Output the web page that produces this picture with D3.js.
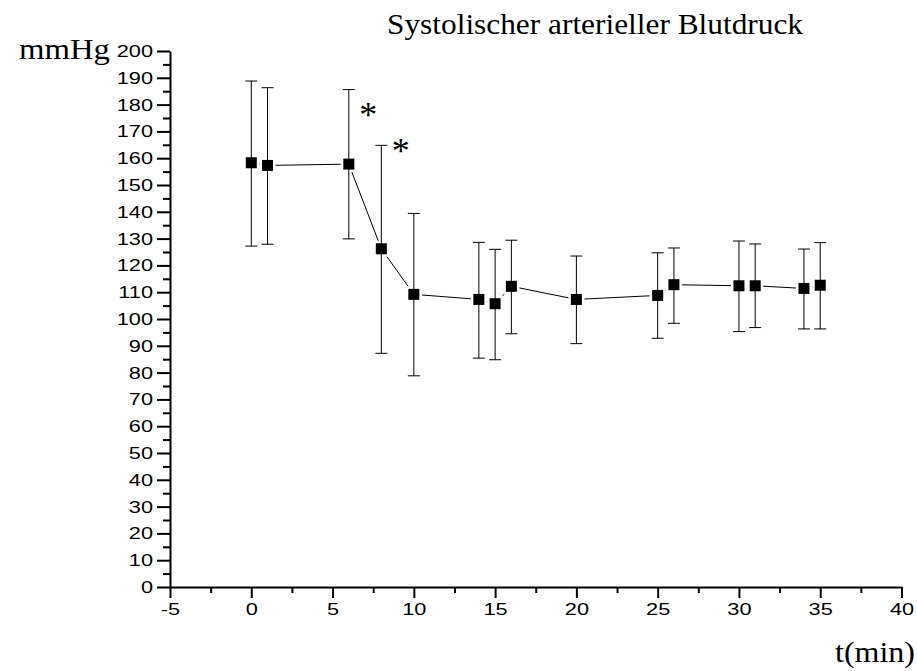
<!DOCTYPE html>
<html>
<head>
<meta charset="utf-8">
<script src="https://cdn.jsdelivr.net/npm/d3@7/dist/d3.min.js"></script>
<style>
  html, body { margin: 0; padding: 0; background: #fff; }
  svg { display: block; }
</style>
</head>
<body>
<svg id="chart" width="917" height="671"></svg>
<script>
// Systolic arterial blood pressure over time (mean ± SD)
const times  = [0, 1, 6, 8, 10, 14, 15, 16, 20, 25, 26, 30, 31, 34, 35];
const means  = [158.3, 157.3, 157.8, 126.2, 109.2, 107.3, 105.7, 112.2, 107.3, 108.8, 112.8, 112.4, 112.4, 111.4, 112.6];
const upper  = [188.8, 186.3, 185.6, 164.8, 139.4, 128.6, 126.0, 129.4, 123.5, 124.7, 126.5, 129.1, 128.0, 126.1, 128.5];
const lower  = [127.2, 127.9, 129.9, 87.2, 78.8, 85.4, 84.8, 94.5, 90.8, 92.8, 98.4, 95.3, 96.8, 96.3, 96.3];

// significance markers
const starTimes  = [7.2, 9.2];
const starValues = [178, 164.4];

const xTicks = [-5, 0, 5, 10, 15, 20, 25, 30, 35, 40];
const yTicks = d3.range(0, 201, 10);

const titleText = "Systolischer arterieller Blutdruck";
const yLabelText = "mmHg";
const xLabelText = "t(min)";

const svg = d3.select("#chart");
const sans = "'Liberation Sans', Arial, sans-serif";
const serif = "'Liberation Serif', 'Times New Roman', serif";
const stretch = 1.28;
const plain = d => String(d);

const x = d3.scaleLinear().domain([-5, 40]).range([170, 901.5]);
const y = d3.scaleLinear().domain([0, 200]).range([587, 51]);

// ---- axes ----
function styleAxis(g) {
  g.selectAll("path.domain").attr("stroke", "#000").attr("stroke-width", 2);
  g.selectAll(".tick line").attr("stroke", "#000").attr("stroke-width", 2);
}

const xMinor = svg.append("g").attr("transform", `translate(0,${y(0)})`)
  .call(d3.axisBottom(x).tickValues(d3.range(-2.5, 40, 5)).tickSize(6).tickSizeOuter(0).tickFormat(""));
styleAxis(xMinor);
xMinor.select("path.domain").remove();

const xAxis = svg.append("g").attr("transform", `translate(0,${y(0)})`)
  .call(d3.axisBottom(x).tickValues(xTicks).tickSize(11).tickSizeOuter(0).tickPadding(5).tickFormat(plain));
styleAxis(xAxis);
xAxis.selectAll("text")
  .attr("fill", "#000")
  .style("font-family", sans).style("font-size", "17px")
  .attr("transform", `scale(${stretch},1)`);

const yMinor = svg.append("g").attr("transform", `translate(${x(-5)},0)`)
  .call(d3.axisLeft(y).tickValues(d3.range(5, 200, 10)).tickSize(7).tickSizeOuter(0).tickFormat(""));
styleAxis(yMinor);
yMinor.select("path.domain").remove();

const yAxis = svg.append("g").attr("transform", `translate(${x(-5)},0)`)
  .call(d3.axisLeft(y).tickValues(yTicks).tickSize(13).tickSizeOuter(0).tickFormat(plain));
styleAxis(yAxis);
yAxis.selectAll("text")
  .attr("x", 0)
  .attr("fill", "#000")
  .style("font-family", sans).style("font-size", "17px")
  .attr("transform", `translate(-17,0) scale(${stretch},1)`);

// ---- data ----
const pts = times.map((t, i) => ({ t, m: means[i], hi: upper[i], lo: lower[i] }));

svg.append("path")
  .datum(pts)
  .attr("fill", "none")
  .attr("stroke", "#000")
  .attr("stroke-width", 1)
  .attr("d", d3.line().x(d => x(d.t)).y(d => y(d.m)));

// white halo so the connecting line stops short of each symbol
svg.append("g").selectAll("rect").data(pts).join("rect")
  .attr("x", d => x(d.t) - 8).attr("y", d => y(d.m) - 8)
  .attr("width", 16).attr("height", 16)
  .attr("fill", "#fff");

const bars = svg.append("g").attr("stroke", "#000").attr("stroke-width", 1);
bars.selectAll("line.v").data(pts).join("line").attr("class", "v")
  .attr("x1", d => x(d.t)).attr("x2", d => x(d.t))
  .attr("y1", d => y(d.hi)).attr("y2", d => y(d.lo));
bars.selectAll("line.hi").data(pts).join("line").attr("class", "hi")
  .attr("x1", d => x(d.t) - 6).attr("x2", d => x(d.t) + 6)
  .attr("y1", d => y(d.hi)).attr("y2", d => y(d.hi));
bars.selectAll("line.lo").data(pts).join("line").attr("class", "lo")
  .attr("x1", d => x(d.t) - 6).attr("x2", d => x(d.t) + 6)
  .attr("y1", d => y(d.lo)).attr("y2", d => y(d.lo));

svg.append("g").selectAll("rect").data(pts).join("rect")
  .attr("x", d => x(d.t) - 5.5).attr("y", d => y(d.m) - 5.5)
  .attr("width", 11).attr("height", 11)
  .attr("fill", "#000");

// significance asterisks
svg.append("g").selectAll("text").data(starTimes.map((t, i) => ({ t, v: starValues[i] }))).join("text")
  .attr("x", d => x(d.t)).attr("y", d => y(d.v) + 17)
  .attr("text-anchor", "middle")
  .attr("fill", "#000")
  .style("font-family", serif).style("font-size", "36px")
  .text("*");

// ---- titles ----
svg.append("text")
  .attr("x", 387).attr("y", 34)
  .attr("fill", "#000")
  .attr("textLength", 416).attr("lengthAdjust", "spacingAndGlyphs")
  .style("font-family", serif).style("font-size", "29px")
  .text(titleText);

svg.append("text")
  .attr("x", 19).attr("y", 59)
  .attr("fill", "#000")
  .attr("textLength", 91).attr("lengthAdjust", "spacingAndGlyphs")
  .style("font-family", serif).style("font-size", "29px")
  .text(yLabelText);

svg.append("text")
  .attr("x", 835).attr("y", 662)
  .attr("fill", "#000")
  .attr("textLength", 80).attr("lengthAdjust", "spacingAndGlyphs")
  .style("font-family", serif).style("font-size", "29px")
  .text(xLabelText);
</script>
</body>
</html>
